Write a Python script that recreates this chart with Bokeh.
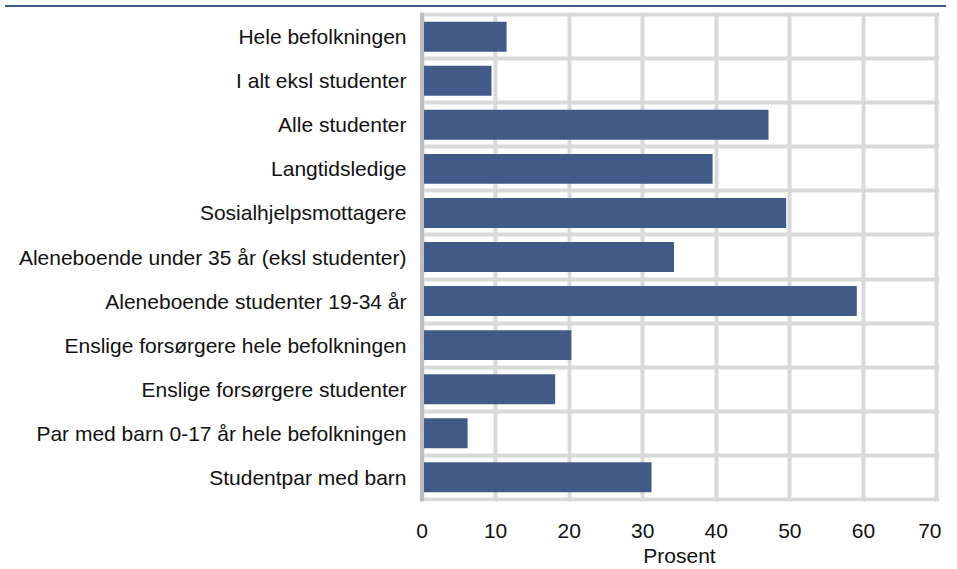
from bokeh.plotting import figure
from bokeh.models import FixedTicker, Span, Range1d, Div
from bokeh.layouts import column
from bokeh.embed import file_html
from bokeh.resources import INLINE

categories = [
    "Hele befolkningen",
    "I alt eksl studenter",
    "Alle studenter",
    "Langtidsledige",
    "Sosialhjelpsmottagere",
    "Aleneboende under 35 år (eksl studenter)",
    "Aleneboende studenter 19-34 år",
    "Enslige forsørgere hele befolkningen",
    "Enslige forsørgere studenter",
    "Par med barn 0-17 år hele befolkningen",
    "Studentpar med barn",
]
values = [11.5, 9.45, 47.1, 39.5, 49.5, 34.25, 59.1, 20.3, 18.1, 6.2, 31.2]
x_ticks = [0, 10, 20, 30, 40, 50, 60, 70]
x_label = "Prosent"

n = len(categories)
ypos = [n - i for i in range(n)]

FONT = "Liberation Sans"
TXT = "#111111"

p = figure(
    width=941, height=557,
    x_range=Range1d(-0.34, 70.34), y_range=Range1d(0.45, n + 0.55),
    output_backend="svg", toolbar_location=None,
    min_border_left=419, min_border_right=2, min_border_top=0, min_border_bottom=65,
)
p.outline_line_color = None
p.background_fill_color = "white"

p.hbar(y=ypos, right=values, left=0, height=0.68, color="#425A88", line_color=None)

p.add_layout(Span(location=0, dimension="height", line_color="#BFBFBF", line_width=4))

p.xgrid.ticker = FixedTicker(ticks=x_ticks)
p.ygrid.ticker = FixedTicker(ticks=[i + 0.5 for i in range(n + 1)])
for g in (p.xgrid, p.ygrid):
    g.grid_line_color = "#D9D9D9"
    g.grid_line_width = 4

p.yaxis.ticker = FixedTicker(ticks=ypos)
p.yaxis.major_label_overrides = {y: c for y, c in zip(ypos, categories)}
p.xaxis.ticker = FixedTicker(ticks=x_ticks)
p.xaxis.axis_label = x_label

for ax in (p.xaxis, p.yaxis):
    ax.axis_line_color = None
    ax.major_tick_line_color = None
    ax.minor_tick_line_color = None
    ax.major_label_text_font = FONT
    ax.major_label_text_font_size = "21px"
    ax.major_label_text_color = TXT

p.yaxis.major_label_standoff = 7
p.xaxis.major_label_standoff = 16
p.xaxis.axis_label_standoff = 3
p.xaxis.axis_label_text_font = FONT
p.xaxis.axis_label_text_font_size = "21px"
p.xaxis.axis_label_text_font_style = "normal"
p.xaxis.axis_label_text_color = TXT

top_line = Div(width=941, height=2, styles={"background-color": "#3F5A8A"})

layout = column(top_line, p)

open("out.html", "w").write(file_html(layout, INLINE))
